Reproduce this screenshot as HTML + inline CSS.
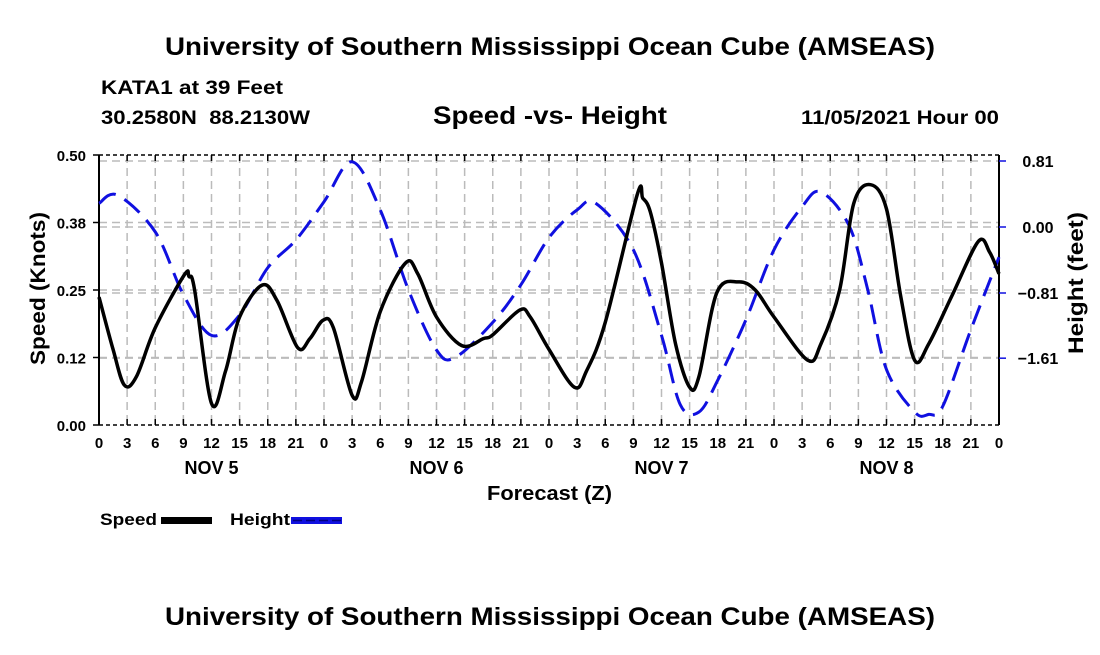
<!DOCTYPE html>
<html><head><meta charset="utf-8"><style>
body{margin:0;background:#fff;}
svg text{font-family:"Liberation Sans",sans-serif;font-weight:bold;fill:#000;}
</style></head><body>
<svg id="chart" width="1100" height="650" viewBox="0 0 1100 650" xmlns="http://www.w3.org/2000/svg">
<rect width="1100" height="650" fill="#fff"/>
<text x="165" y="55" font-size="25" textLength="770" lengthAdjust="spacingAndGlyphs">University of Southern Mississippi Ocean Cube (AMSEAS)</text>
<text x="101" y="94" font-size="19" textLength="182" lengthAdjust="spacingAndGlyphs">KATA1 at 39 Feet</text>
<text x="101" y="124" font-size="19" textLength="209" lengthAdjust="spacingAndGlyphs" xml:space="preserve">30.2580N  88.2130W</text>
<text x="433" y="124" font-size="25" textLength="234" lengthAdjust="spacingAndGlyphs">Speed -vs- Height</text>
<text x="801" y="124" font-size="19" textLength="198" lengthAdjust="spacingAndGlyphs">11/05/2021 Hour 00</text>
<g id="grid"></g>
<g id="axes"></g>
<g id="series"></g>
<text transform="translate(45,212) rotate(-90)" font-size="21" text-anchor="end" textLength="153" lengthAdjust="spacingAndGlyphs">Speed (Knots)</text>
<text transform="translate(1083,212) rotate(90) rotate(180,71,0)" font-size="21" textLength="142" lengthAdjust="spacingAndGlyphs">Height (feet)</text>
<text x="487" y="500" font-size="20" textLength="125" lengthAdjust="spacingAndGlyphs">Forecast (Z)</text>
<g>
<g>
<text x="100" y="525" font-size="17" textLength="57" lengthAdjust="spacingAndGlyphs">Speed</text>
<rect x="161" y="517" width="51" height="7" fill="#000"/>
</g>
<g>
<text x="230" y="525" font-size="17" textLength="60" lengthAdjust="spacingAndGlyphs">Height</text>
<rect x="291" y="517" width="51" height="7" fill="#1010e0"/>
<line x1="293" y1="520.5" x2="342" y2="520.5" stroke="#000080" stroke-width="1.5" stroke-dasharray="9,4"/>
</g>
</g>
<text x="165" y="625" font-size="25" textLength="770" lengthAdjust="spacingAndGlyphs">University of Southern Mississippi Ocean Cube (AMSEAS)</text>
</svg>
<script>
const speedHours=[0,1.5,2.7,4,6,9.1,9.6,10.2,12,13.5,15,17.4,19,21.2,22.5,23.9,25,27,28,30,32.7,34,36,38.7,41,42,44.9,46,48,50.7,52,54,57.4,58,58.8,60,61.5,63,64,65.9,68.2,70,72,75.6,77,79,80.5,82.3,84,85.5,87,88.5,91,93.8,95,96];
const speedVals=[0.237,0.14,0.074,0.09,0.18,0.278,0.275,0.25,0.04,0.1,0.2,0.259,0.23,0.143,0.16,0.194,0.18,0.055,0.08,0.21,0.30,0.28,0.20,0.147,0.16,0.167,0.213,0.2,0.14,0.07,0.1,0.19,0.426,0.42,0.395,0.3,0.15,0.07,0.09,0.245,0.265,0.25,0.2,0.12,0.15,0.25,0.41,0.445,0.40,0.24,0.12,0.15,0.24,0.34,0.32,0.28];
const heightHours=[0,2,6,9,12,15,18,21,24,27,30,33,36,38,42,45,48,51,53,57,60,62,64,66,69,72,75,77,80,82,84,87,88.5,90,93,96];
const heightVals=[0.29,0.39,-0.06,-0.83,-1.33,-1.08,-0.50,-0.16,0.31,0.80,0.21,-0.77,-1.51,-1.60,-1.17,-0.71,-0.13,0.21,0.29,-0.28,-1.33,-2.18,-2.27,-1.88,-1.14,-0.28,0.25,0.43,0.02,-0.77,-1.75,-2.27,-2.3,-2.2,-1.26,-0.37];
const xTickLabels=["0","3","6","9","12","15","18","21","0","3","6","9","12","15","18","21","0","3","6","9","12","15","18","21","0","3","6","9","12","15","18","21","0"];
const dayLabels=["NOV 5","NOV 6","NOV 7","NOV 8"];
const leftTicks=[0,0.125,0.25,0.375,0.5];
const leftTickLabels=["0.00","0.12","0.25","0.38","0.50"];
const rightTicks=[0.81,0,-0.81,-1.61];
const rightTickLabels=["0.81","0.00","\u22120.81","\u22121.61"];

const NS="http://www.w3.org/2000/svg";
const X0=99,X1=999,Y0=425,Y1=155;
const xS=h=>X0+(h/96)*(X1-X0);
const yL=v=>Y0-(v/0.5)*(Y0-Y1);
const yR=f=>227-(f/0.81)*66;
function mk(tag,attrs,parent){const e=document.createElementNS(NS,tag);for(const k in attrs)e.setAttribute(k,attrs[k]);parent.appendChild(e);return e;}
const grid=document.getElementById('grid'),axes=document.getElementById('axes'),series=document.getElementById('series');
for(let i=1;i<32;i++){const l=mk('line',{x1:xS(i*3),x2:xS(i*3),y1:Y1,y2:Y0,stroke:'#bbb','stroke-width':1.5,'stroke-dasharray':'8,5'},grid);

}
leftTicks.forEach(v=>{if(v>0&&v<0.5){const l=mk('line',{x1:X0,x2:X1,y1:yL(v),y2:yL(v),stroke:'#bbb','stroke-width':1.5,'stroke-dasharray':'8,5'},grid);

}});
rightTicks.forEach(f=>{const l=mk('line',{x1:X0,x2:X1,y1:yR(f),y2:yR(f),stroke:'#bbb','stroke-width':1.5,'stroke-dasharray':'8,5'},grid);

});
mk('line',{x1:X0,x2:X0,y1:Y1,y2:Y0,stroke:'#000','stroke-width':2},axes);
mk('line',{x1:X1,x2:X1,y1:Y1,y2:Y0,stroke:'#000','stroke-width':2},axes);
mk('line',{x1:X0,x2:X1,y1:Y0,y2:Y0,stroke:'#000','stroke-width':1.5,'stroke-dasharray':'4,3'},axes);
mk('line',{x1:X0,x2:X1,y1:Y1,y2:Y1,stroke:'#000','stroke-width':1.5,'stroke-dasharray':'4,3'},axes);
xTickLabels.forEach((t,i)=>{const x=xS(i*3);
mk('line',{x1:x,x2:x,y1:Y0-6,y2:Y0,stroke:'#000','stroke-width':1.5},axes);
mk('line',{x1:x,x2:x,y1:Y1,y2:Y1+6,stroke:'#000','stroke-width':1.5},axes);
const tx=mk('text',{x:x,y:448,'font-size':15,'text-anchor':'middle'},axes);tx.textContent=t;

});
dayLabels.forEach((d,i)=>{const tx=mk('text',{x:xS(12+24*i),y:474,'font-size':18,'text-anchor':'middle'},axes);tx.textContent=d;

});
leftTicks.forEach((v,i)=>{mk('line',{x1:X0-6,x2:X0,y1:yL(v),y2:yL(v),stroke:'#000','stroke-width':1.5},axes);
const tx=mk('text',{x:86,y:yL(v)+6,'font-size':15,'text-anchor':'end'},axes);tx.textContent=leftTickLabels[i];

});
rightTicks.forEach((f,i)=>{mk('line',{x1:X1,x2:X1+7,y1:yR(f),y2:yR(f),stroke:'#1010e0','stroke-width':1.5},axes);
const tx=mk('text',{x:1038,y:yR(f)+6,'font-size':16,'text-anchor':'middle'},axes);tx.textContent=rightTickLabels[i];

});
function smooth(pts){let d=`M${pts[0][0]},${pts[0][1]}`;
for(let i=0;i<pts.length-1;i++){const p0=pts[Math.max(0,i-1)],p1=pts[i],p2=pts[i+1],p3=pts[Math.min(pts.length-1,i+2)];
const c1=[p1[0]+(p2[0]-p0[0])/6,p1[1]+(p2[1]-p0[1])/6],c2=[p2[0]-(p3[0]-p1[0])/6,p2[1]-(p3[1]-p1[1])/6];
d+=` C${c1[0]},${c1[1]} ${c2[0]},${c2[1]} ${p2[0]},${p2[1]}`;}return d;}
const hp=mk('path',{d:smooth(heightHours.map((h,i)=>[xS(h),yR(heightVals[i])])),fill:'none',stroke:'#1010e0','stroke-width':3,'stroke-dasharray':'20,10'},series);


const sp=mk('path',{d:smooth(speedHours.map((h,i)=>[xS(h),yL(speedVals[i])])),fill:'none',stroke:'#000','stroke-width':3.5},series);


</script>
</body></html>
